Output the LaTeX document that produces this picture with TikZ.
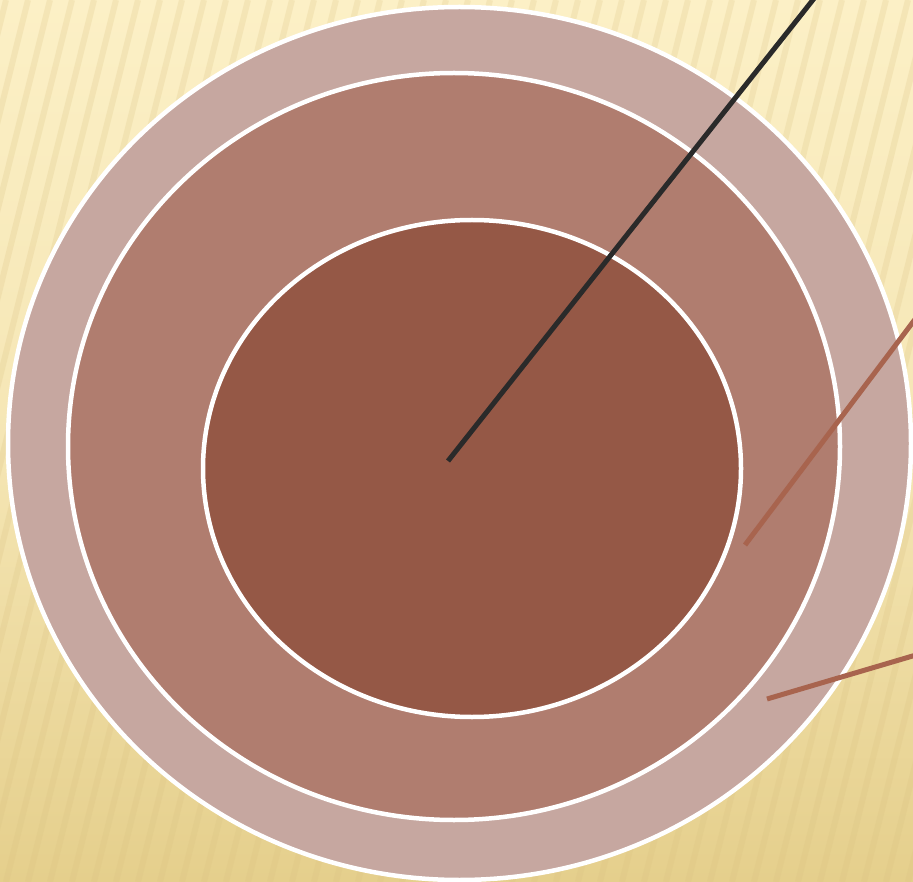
\documentclass[tikz,border=0pt]{standalone}
\usetikzlibrary{calc}
\definecolor{bgtop}{HTML}{FCF0C6}
\definecolor{bgbot}{HTML}{E5CF8C}
\definecolor{stripe}{HTML}{D9C080}
\definecolor{outerc}{HTML}{C6A7A0}
\definecolor{midc}{HTML}{B07D6F}
\definecolor{innerc}{HTML}{955846}
\definecolor{linebrown}{HTML}{A8644E}
\definecolor{lineblack}{HTML}{2A2A2A}
\tikzset{
  ring/.style={draw=white, line width=4.5pt},
  pointer/.style={line width=5pt},
}
\begin{document}
\begin{tikzpicture}[x=1pt,y=-1pt]
\useasboundingbox (0,0) rectangle (913,882);
\begin{scope}
\clip (0,0) rectangle (913,882);
\shade[top color=bgtop, bottom color=bgbot, middle color=bgtop!70!bgbot] (0,0) rectangle (913,882);
\foreach \i in {-20,...,60} {
  \draw[stripe, opacity=0.22, line width=6pt] ({\i*22-60},882) -- ({\i*22+160},0);
}
\end{scope}
\path[ring, fill=outerc] (459.5,443.5) ellipse [x radius=451.5, y radius=436.5];
\path[ring, fill=midc] (454,446.5) ellipse [x radius=386, y radius=373.5];
\path[ring, fill=innerc] (472,468.5) ellipse [x radius=269, y radius=248.5];
\coordinate (c0) at (448,461);
\coordinate (e0) at (816,-4);
\coordinate (c1) at (745,545);
\coordinate (e1) at (916,318);
\coordinate (c2) at (767,699);
\coordinate (e2) at (916,655);
\begin{scope}
\clip (0,0) rectangle (913,882);
\draw[pointer, lineblack] (c0) -- (e0);
\draw[pointer, linebrown] (c1) -- (e1);
\draw[pointer, linebrown] (c2) -- (e2);
\end{scope}
\end{tikzpicture}
\end{document}
